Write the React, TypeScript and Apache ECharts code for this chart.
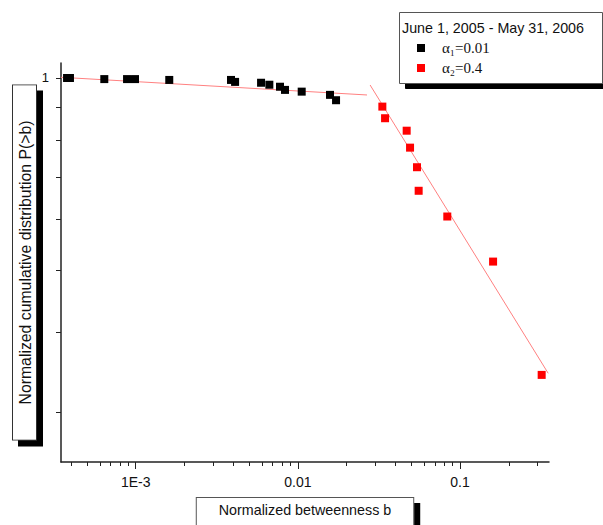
import React, { useEffect, useRef } from "react";
import * as echarts from "echarts";

// Data (normalized betweenness b, P(>b))
const blackX = [3.77e-4, 3.93e-4, 6.4e-4, 8.84e-4, 9.9e-4, 1.61e-3, 3.87e-3, 4.1e-3, 5.93e-3, 6.67e-3, 7.76e-3, 8.33e-3, 1.056e-2, 1.579e-2, 1.72e-2];
const blackY = [1.0, 1.0, 0.996, 0.996, 0.996, 0.993, 0.993, 0.986, 0.983, 0.976, 0.969, 0.958, 0.952, 0.941, 0.923];
const redX = [0.0332, 0.0345, 0.0469, 0.0492, 0.0543, 0.0556, 0.0835, 0.16, 0.319];
const redY = [0.902, 0.865, 0.827, 0.778, 0.725, 0.666, 0.607, 0.516, 0.343];
const fit1X = [3.46e-4, 0.0267];
const fit1Y = [1.0025, 0.9406];
const fit2X = [0.0279, 0.35];
const fit2Y = [0.975, 0.345];

const seriesNames = ["α₁=0.01", "α₂=0.4"];
const legendTitle = "June 1, 2005 - May 31, 2006";
const xTitle = "Normalized betweenness b";
const yTitle = "Normalized cumulative distribution P(>b)";

const xRange = [3.46e-4, 0.354];
const yRange = [0.2506, 1.0555];
const xMajorTicks = [1e-3, 1e-2, 1e-1];
const xTickLabels = ["1E-3", "0.01", "0.1"];
const xMinorTicks = [
  4e-4, 5e-4, 6e-4, 7e-4, 8e-4, 9e-4,
  2e-3, 3e-3, 4e-3, 5e-3, 6e-3, 7e-3, 8e-3, 9e-3,
  2e-2, 3e-2, 4e-2, 5e-2, 6e-2, 7e-2, 8e-2, 9e-2,
  2e-1, 3e-1,
];
const yTicks = [1, 0.9, 0.8, 0.7, 0.6, 0.5, 0.4, 0.3];
const yLabelTicks = [1];
const yTickLabels = ["1"];

const lg = (v: number) => Math.log10(v);
const pairs = (xs: number[], ys: number[]) => xs.map((x, i) => [lg(x), lg(ys[i])]);

const AXIS_COLOR = "#222";
const SANS = "'Liberation Sans', Arial, sans-serif";
const SERIF = "'Liberation Serif', 'Times New Roman', serif";

export default function App() {
  const ref = useRef<HTMLDivElement>(null);
  useEffect(() => {
    if (!ref.current) return;
    const chart = echarts.init(ref.current, undefined, { renderer: "svg" });
    const findLabel = (v: number, ticks: number[], labels: string[]) => {
      const i = ticks.findIndex((t) => Math.abs(lg(t) - v) < 1e-6);
      return i >= 0 ? labels[i] : "";
    };
    const option: any = {
      animation: false,
      backgroundColor: "#fff",
      grid: { left: 61, top: 63, width: 488, height: 399, containLabel: false, outerBoundsMode: "none" },
      xAxis: [
        {
          type: "value",
          position: "bottom",
          min: lg(xRange[0]),
          max: lg(xRange[1]),
          axisLine: { show: false, onZero: false },
          axisTick: { show: true, customValues: xMinorTicks.map(lg), length: 4, lineStyle: { color: AXIS_COLOR, width: 1 } },
          axisLabel: { show: false },
          splitLine: { show: false },
        },
        {
          type: "value",
          position: "bottom",
          min: lg(xRange[0]),
          max: lg(xRange[1]),
          axisLine: { show: true, onZero: false, lineStyle: { color: AXIS_COLOR, width: 1.5 } },
          axisTick: { show: true, customValues: xMajorTicks.map(lg), length: 7, lineStyle: { color: AXIS_COLOR, width: 1 } },
          axisLabel: {
            customValues: xMajorTicks.map(lg),
            formatter: (v: number) => findLabel(v, xMajorTicks, xTickLabels),
            margin: 13,
            fontSize: 14,
            fontFamily: SANS,
            color: "#111",
          },
          splitLine: { show: false },
          name: xTitle,
          nameLocation: "middle",
          nameGap: 36,
          nameMoveOverlap: false,
          nameTextStyle: {
            fontSize: 14.3,
            fontFamily: SANS,
            color: "#111",
            lineHeight: 14,
            backgroundColor: "#fff",
            borderColor: "#555",
            borderWidth: 1,
            padding: [5, 22, 12, 22],
            shadowColor: "#000",
            shadowBlur: 0,
            shadowOffsetX: 6,
            shadowOffsetY: 6,
          },
        },
      ],
      yAxis: {
        type: "value",
        min: lg(yRange[0]),
        max: lg(yRange[1]),
        axisLine: { show: true, onZero: false, lineStyle: { color: AXIS_COLOR, width: 1.5 } },
        axisTick: { show: true, customValues: yTicks.map(lg), length: 5, lineStyle: { color: AXIS_COLOR, width: 1 } },
        axisLabel: {
          customValues: yLabelTicks.map(lg),
          formatter: (v: number) => findLabel(v, yLabelTicks, yTickLabels),
          margin: 12,
          fontSize: 13,
          fontFamily: SANS,
          color: "#111",
          padding: [0, 0, 4, 0],
        },
        splitLine: { show: false },
        name: yTitle,
        nameLocation: "middle",
        nameRotate: 90,
        nameGap: 25,
        nameMoveOverlap: false,
        nameTextStyle: {
          fontSize: 15.8,
          fontFamily: SANS,
          color: "#111",
          lineHeight: 16,
          backgroundColor: "#fff",
          borderColor: "#333",
          borderWidth: 1,
          padding: [4, 35, 3, 35],
          shadowColor: "#000",
          shadowBlur: 0,
          shadowOffsetX: -6,
          shadowOffsetY: 6,
        },
      },
      legend: {
        data: seriesNames,
        orient: "vertical",
        left: 417,
        top: 40,
        padding: 0,
        itemGap: 4,
        itemWidth: 8,
        itemHeight: 8,
        icon: "rect",
        itemStyle: { opacity: 1 },
        textStyle: { fontFamily: SERIF, fontSize: 15, color: "#111", lineHeight: 16, padding: [0, 0, 0, 12] },
      },
      graphic: [
        {
          type: "rect",
          z: 1,
          shape: { x: 399.5, y: 12.5, width: 203, height: 71 },
          style: { fill: "#fff", stroke: "#555", lineWidth: 1, shadowColor: "#000", shadowBlur: 0, shadowOffsetX: 6, shadowOffsetY: 5 },
        },
        {
          type: "text",
          z: 2,
          x: 402,
          y: 28,
          style: { text: legendTitle, fontSize: 14.3, fontFamily: SANS, fill: "#111", verticalAlign: "middle" },
        },
      ],
      series: [
        {
          type: "line",
          xAxisIndex: 1,
          data: pairs(fit1X, fit1Y),
          showSymbol: false,
          symbol: "none",
          lineStyle: { color: "#ff8080", width: 1 },
          z: 1,
        },
        {
          type: "line",
          xAxisIndex: 1,
          data: pairs(fit2X, fit2Y),
          showSymbol: false,
          symbol: "none",
          lineStyle: { color: "#ff8080", width: 1 },
          z: 1,
        },
        {
          name: seriesNames[0],
          type: "scatter",
          xAxisIndex: 1,
          data: pairs(blackX, blackY),
          symbol: "rect",
          symbolSize: 8,
          itemStyle: { color: "#000", opacity: 1 },
          z: 3,
        },
        {
          name: seriesNames[1],
          type: "scatter",
          xAxisIndex: 1,
          data: pairs(redX, redY),
          symbol: "rect",
          symbolSize: 8,
          itemStyle: { color: "#ff0000", opacity: 1 },
          z: 3,
        },
      ],
    };
    chart.setOption(option);
    return () => chart.dispose();
  }, []);
  return (
    <div
      ref={ref}
      style={{ position: "fixed", left: 0, top: 0, width: 603, height: 525, background: "#fff" }}
    />
  );
}
